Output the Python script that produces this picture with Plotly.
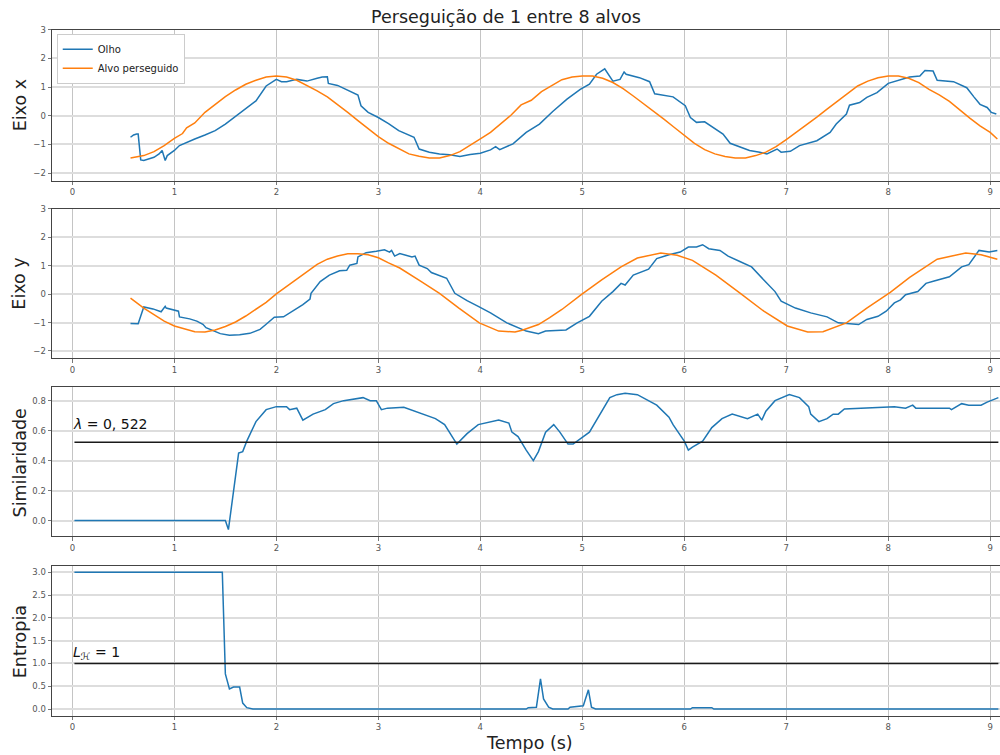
import plotly.graph_objects as go

# ---------------- data ----------------
t_alvo_x = [0.57, 0.7, 0.8, 0.9, 1.0, 1.08, 1.12, 1.2, 1.3, 1.4, 1.5, 1.6, 1.7, 1.8, 1.9, 2.0,
            2.1, 2.2, 2.3, 2.4, 2.5, 2.6, 2.7, 2.8, 2.9, 3.0, 3.1, 3.2, 3.3, 3.4, 3.5, 3.6,
            3.7, 3.8, 3.9, 4.0, 4.1, 4.2, 4.3, 4.4, 4.5, 4.6, 4.7, 4.8, 4.9, 5.0, 5.1, 5.2,
            5.3, 5.4, 5.5, 5.6, 5.7, 5.8, 5.9, 6.0, 6.1, 6.2, 6.3, 6.4, 6.5, 6.6, 6.7, 6.8,
            6.9, 7.0, 7.1, 7.2, 7.3, 7.4, 7.5, 7.6, 7.7, 7.8, 7.9, 8.0, 8.1, 8.2, 8.3, 8.4,
            8.5, 8.6, 8.7, 8.8, 8.9, 9.0, 9.07]
alvo_x = [-1.47, -1.39, -1.25, -1.04, -0.79, -0.62, -0.42, -0.25, 0.12, 0.40, 0.67, 0.90, 1.10, 1.24, 1.35, 1.39,
          1.35, 1.24, 1.06, 0.87, 0.66, 0.40, 0.12, -0.17, -0.46, -0.73, -0.96, -1.16, -1.33, -1.41, -1.47, -1.47,
          -1.39, -1.25, -1.04, -0.81, -0.58, -0.27, 0.02, 0.38, 0.54, 0.84, 1.06, 1.26, 1.35, 1.39, 1.39, 1.31,
          1.16, 0.95, 0.69, 0.43, 0.17, -0.12, -0.40, -0.69, -0.96, -1.18, -1.33, -1.42, -1.47, -1.47, -1.39, -1.27,
          -1.08, -0.83, -0.58, -0.33, -0.05, 0.23, 0.50, 0.77, 1.04, 1.21, 1.33, 1.39, 1.39, 1.31, 1.16, 0.92,
          0.73, 0.50, 0.20, -0.08, -0.35, -0.58, -0.81]

t_olho_x = [0.57, 0.60, 0.63, 0.645, 0.67, 0.70, 0.80, 0.85, 0.88, 0.91, 0.93, 1.00, 1.05, 1.10, 1.20, 1.30,
            1.40, 1.50, 1.60, 1.70, 1.80, 1.90, 2.00, 2.05, 2.10, 2.20, 2.30, 2.40, 2.45, 2.50, 2.51, 2.60,
            2.70, 2.80, 2.83, 2.90, 3.00, 3.10, 3.20, 3.30, 3.35, 3.40, 3.50, 3.60, 3.70, 3.80, 3.90, 4.00,
            4.10, 4.15, 4.19, 4.32, 4.45, 4.58, 4.71, 4.85, 4.98, 5.07, 5.14, 5.22, 5.30, 5.37, 5.41, 5.43,
            5.56, 5.66, 5.71, 5.89, 6.01, 6.06, 6.12, 6.20, 6.28, 6.38, 6.45, 6.55, 6.64, 6.74, 6.81, 6.91,
            6.95, 7.04, 7.13, 7.30, 7.43, 7.49, 7.59, 7.62, 7.72, 7.79, 7.89, 8.00, 8.12, 8.21, 8.31, 8.36,
            8.44, 8.48, 8.64, 8.77, 8.84, 8.90, 8.97, 9.01, 9.06]
olho_x = [-0.75, -0.67, -0.64, -0.64, -1.54, -1.56, -1.45, -1.33, -1.21, -1.56, -1.39, -1.21, -1.04, -0.96, -0.81, -0.67,
          -0.52, -0.29, -0.03, 0.23, 0.52, 1.04, 1.27, 1.19, 1.19, 1.27, 1.21, 1.31, 1.35, 1.36, 1.13, 1.06,
          0.89, 0.72, 0.35, 0.12, -0.06, -0.27, -0.52, -0.69, -0.75, -1.16, -1.27, -1.33, -1.36, -1.42, -1.35, -1.31,
          -1.19, -1.08, -1.18, -0.98, -0.58, -0.29, 0.15, 0.58, 0.92, 1.10, 1.45, 1.64, 1.21, 1.27, 1.53, 1.45,
          1.33, 1.19, 0.77, 0.66, 0.35, -0.06, -0.23, -0.21, -0.40, -0.64, -0.96, -1.10, -1.21, -1.27, -1.33, -1.16,
          -1.27, -1.24, -1.04, -0.87, -0.58, -0.29, 0.06, 0.37, 0.46, 0.64, 0.81, 1.13, 1.27, 1.35, 1.39, 1.58,
          1.56, 1.24, 1.19, 0.98, 0.66, 0.40, 0.29, 0.12, 0.06]

t_alvo_y = [0.57, 0.7, 0.8, 0.9, 1.0, 1.1, 1.2, 1.3, 1.4, 1.5, 1.6, 1.7, 1.8, 1.9, 2.0, 2.1,
            2.2, 2.3, 2.4, 2.5, 2.6, 2.7, 2.8, 2.9, 3.0, 3.1, 3.21, 3.41, 3.60, 3.79, 3.99, 4.18,
            4.34, 4.41, 4.57, 4.68, 4.80, 4.99, 5.19, 5.38, 5.54, 5.77, 5.93, 6.08, 6.31, 6.55, 6.78, 7.01,
            7.21, 7.36, 7.59, 7.79, 8.02, 8.21, 8.48, 8.76, 8.91, 9.07]
alvo_y = [-0.14, -0.49, -0.72, -0.95, -1.12, -1.21, -1.32, -1.33, -1.26, -1.14, -0.98, -0.77, -0.54, -0.29, 0.01, 0.27,
          0.55, 0.81, 1.05, 1.23, 1.34, 1.42, 1.42, 1.39, 1.28, 1.10, 0.92, 0.47, 0.03, -0.49, -1.01, -1.30,
          -1.33, -1.27, -1.07, -0.83, -0.54, -0.02, 0.50, 0.96, 1.27, 1.45, 1.37, 1.19, 0.67, 0.03, -0.60, -1.12,
          -1.33, -1.32, -1.01, -0.49, 0.06, 0.59, 1.23, 1.45, 1.39, 1.23]

t_olho_y = [0.57, 0.63, 0.645, 0.70, 0.79, 0.87, 0.91, 0.92, 1.00, 1.04, 1.05, 1.15, 1.22, 1.28, 1.31, 1.38,
            1.45, 1.54, 1.64, 1.74, 1.84, 1.90, 1.98, 2.07, 2.16, 2.26, 2.33, 2.34, 2.43, 2.52, 2.62, 2.69,
            2.72, 2.79, 2.80, 2.88, 2.98, 3.06, 3.11, 3.13, 3.16, 3.21, 3.33, 3.36, 3.40, 3.48, 3.52, 3.67,
            3.75, 3.87, 3.98, 4.10, 4.26, 4.37, 4.45, 4.57, 4.64, 4.84, 4.95, 5.07, 5.19, 5.30, 5.38, 5.42,
            5.50, 5.65, 5.73, 5.85, 5.96, 6.04, 6.12, 6.18, 6.24, 6.35, 6.43, 6.55, 6.66, 6.78, 6.89, 6.95,
            7.09, 7.24, 7.40, 7.51, 7.63, 7.71, 7.79, 7.90, 7.98, 8.06, 8.12, 8.17, 8.29, 8.37, 8.45, 8.60,
            8.72, 8.79, 8.89, 8.99, 9.07]
olho_y = [-1.03, -1.04, -1.04, -0.45, -0.52, -0.62, -0.43, -0.49, -0.57, -0.60, -0.80, -0.87, -0.95, -1.06, -1.18, -1.29,
          -1.39, -1.45, -1.43, -1.38, -1.24, -1.06, -0.81, -0.80, -0.60, -0.37, -0.17, 0.03, 0.44, 0.67, 0.82, 0.84,
          1.02, 1.08, 1.31, 1.46, 1.51, 1.56, 1.48, 1.54, 1.34, 1.43, 1.31, 1.34, 1.02, 0.90, 0.76, 0.56,
          0.03, -0.23, -0.43, -0.66, -1.01, -1.18, -1.30, -1.39, -1.30, -1.26, -1.01, -0.78, -0.25, 0.09, 0.38, 0.32,
          0.67, 0.88, 1.25, 1.39, 1.48, 1.66, 1.66, 1.74, 1.60, 1.54, 1.34, 1.14, 0.96, 0.50, 0.09, -0.25,
          -0.49, -0.66, -0.80, -1.01, -1.04, -1.07, -0.89, -0.78, -0.60, -0.31, -0.20, -0.02, 0.09, 0.38, 0.46, 0.61,
          0.96, 1.04, 1.54, 1.48, 1.54]

t_sim = [0.02, 1.50, 1.53, 1.58, 1.63, 1.67, 1.71, 1.80, 1.90, 2.00, 2.10, 2.13, 2.20, 2.26, 2.36, 2.48,
         2.56, 2.66, 2.75, 2.85, 2.92, 2.98, 3.03, 3.09, 3.25, 3.40, 3.56, 3.65, 3.77, 3.87, 3.98, 4.18,
         4.28, 4.31, 4.37, 4.45, 4.52, 4.57, 4.64, 4.72, 4.78, 4.86, 4.91, 5.07, 5.27, 5.34, 5.42, 5.54,
         5.73, 5.85, 5.89, 6.00, 6.04, 6.08, 6.18, 6.27, 6.37, 6.47, 6.53, 6.62, 6.72, 6.76, 6.80, 6.89,
         7.03, 7.13, 7.22, 7.24, 7.32, 7.40, 7.46, 7.51, 7.57, 7.86, 8.06, 8.17, 8.24, 8.27, 8.60, 8.62,
         8.72, 8.79, 8.91, 8.97, 9.08]
similaridade = [0.0, 0.0, -0.06, 0.19, 0.45, 0.46, 0.53, 0.66, 0.74, 0.76, 0.76, 0.74, 0.75, 0.67, 0.71, 0.74,
                0.78, 0.80, 0.81, 0.82, 0.80, 0.80, 0.74, 0.75, 0.756, 0.72, 0.68, 0.64, 0.51, 0.58, 0.64, 0.67,
                0.65, 0.59, 0.56, 0.47, 0.40, 0.46, 0.59, 0.64, 0.59, 0.51, 0.51, 0.59, 0.82, 0.84, 0.85, 0.84,
                0.77, 0.69, 0.64, 0.53, 0.47, 0.49, 0.53, 0.62, 0.68, 0.71, 0.70, 0.68, 0.71, 0.67, 0.73, 0.80,
                0.84, 0.82, 0.76, 0.71, 0.66, 0.68, 0.71, 0.71, 0.745, 0.756, 0.76, 0.75, 0.77, 0.75, 0.75, 0.74,
                0.78, 0.77, 0.77, 0.79, 0.82]

t_ent = [0.02, 1.47, 1.50, 1.54, 1.58, 1.64, 1.67, 1.71, 1.77, 4.45, 4.47, 4.55, 4.59, 4.62, 4.67, 4.71,
         4.86, 4.88, 5.01, 5.06, 5.09, 5.13, 6.06, 6.08, 6.27, 6.29, 9.08]
entropia = [3.0, 3.0, 0.77, 0.44, 0.48, 0.48, 0.13, 0.03, 0.0, 0.0, 0.03, 0.04, 0.66, 0.22, 0.04, 0.0,
            0.0, 0.04, 0.07, 0.42, 0.04, 0.0, 0.0, 0.03, 0.03, 0.0, 0.0]

lambda_lim = 0.522
lh_lim = 1.0
t_lim = [0.02, 9.08]

x_ticks = [0, 1, 2, 3, 4, 5, 6, 7, 8, 9]
y_ticks_xy = [-2, -1, 0, 1, 2, 3]
y_ticks_sim = [0.0, 0.2, 0.4, 0.6, 0.8]
y_ticks_ent = [0.0, 0.5, 1.0, 1.5, 2.0, 2.5, 3.0]

# ---------------- figure ----------------
W, H = 1000, 755
BLUE, ORANGE = "#1f77b4", "#ff7f0e"
FONT = "DejaVu Sans"

fig = go.Figure()
line_w = 1.5
fig.add_trace(go.Scatter(x=t_olho_x, y=olho_x, mode="lines", name="Olho",
                         line=dict(color=BLUE, width=line_w), xaxis="x", yaxis="y"))
fig.add_trace(go.Scatter(x=t_alvo_x, y=alvo_x, mode="lines", name="Alvo perseguido",
                         line=dict(color=ORANGE, width=line_w), xaxis="x", yaxis="y"))
fig.add_trace(go.Scatter(x=t_olho_y, y=olho_y, mode="lines", showlegend=False,
                         line=dict(color=BLUE, width=line_w), xaxis="x2", yaxis="y2"))
fig.add_trace(go.Scatter(x=t_alvo_y, y=alvo_y, mode="lines", showlegend=False,
                         line=dict(color=ORANGE, width=line_w), xaxis="x2", yaxis="y2"))
fig.add_trace(go.Scatter(x=t_sim, y=similaridade, mode="lines", showlegend=False,
                         line=dict(color=BLUE, width=line_w), xaxis="x3", yaxis="y3"))
fig.add_trace(go.Scatter(x=t_lim, y=[lambda_lim, lambda_lim], mode="lines", showlegend=False,
                         line=dict(color="#1a1a1a", width=1.5), xaxis="x3", yaxis="y3"))
fig.add_trace(go.Scatter(x=t_ent, y=entropia, mode="lines", showlegend=False,
                         line=dict(color=BLUE, width=line_w), xaxis="x4", yaxis="y4"))
fig.add_trace(go.Scatter(x=t_lim, y=[lh_lim, lh_lim], mode="lines", showlegend=False,
                         line=dict(color="#1a1a1a", width=1.5), xaxis="x4", yaxis="y4"))


def dom(top_px, bot_px):
    return [1 - bot_px / H, 1 - top_px / H]


panels = [  # (top px, bottom px, y range, ticks, tickformat)
    (24.7, 176.7, [-2.26, 3.01], y_ticks_xy, "d"),
    (205.0, 355.7, [-2.26, 3.01], y_ticks_xy, "d"),
    (384.7, 535.0, [-0.106, 0.89], y_ticks_sim, ".1f"),
    (564.7, 715.3, [-0.144, 3.137], y_ticks_ent, ".1f"),
]

tickfont = dict(family=FONT, size=8.5, color="#555555")
layout = dict(
    width=W, height=H,
    margin=dict(l=52, r=0, t=0, b=0),
    paper_bgcolor="white", plot_bgcolor="white",
    font=dict(family=FONT, color="#222222"),
    showlegend=True,
    legend=dict(x=0.005, y=1 - 29 / H, xanchor="left", yanchor="top",
                bgcolor="white", bordercolor="#cccccc", borderwidth=1,
                font=dict(family=FONT, size=10, color="#222222"),
                itemwidth=30, tracegroupgap=0),
)
for i, (top, bot, yr, yt, fmt) in enumerate(panels, start=1):
    sx = "" if i == 1 else str(i)
    layout["xaxis" + sx] = dict(
        domain=[0, 1], anchor="y" + sx, range=[-0.2, 9.096],
        tickmode="array", tickvals=x_ticks, tickfont=tickfont,
        showgrid=True, gridcolor="#c4c4c4", gridwidth=1,
        showline=True, linecolor="#444444", linewidth=1, mirror=True,
        ticks="outside", ticklen=3.5, tickcolor="#777777",
        zeroline=False,
    )
    layout["yaxis" + sx] = dict(
        domain=dom(top, bot), anchor="x" + sx, range=yr,
        tickmode="array", tickvals=yt, tickformat=fmt, tickfont=tickfont,
        showgrid=True, gridcolor="#dddddd", gridwidth=1.6,
        showline=True, linecolor="#444444", linewidth=1, mirror=False,
        ticks="outside", ticklen=3.5, tickcolor="#777777",
        zeroline=False,
    )
fig.update_layout(**layout)

PW = W - 52


def px_x(px):
    return (px - 52) / PW


def px_y(py):
    return 1 - py / H


ann = []
ann.append(dict(text="Perseguição de 1 entre 8 alvos", x=px_x(506), y=px_y(12.5),
                xref="paper", yref="paper", xanchor="center", yanchor="middle",
                showarrow=False, font=dict(family=FONT, size=17.5, color="#222222")))
for label, cy in [("Eixo x", 101.5), ("Eixo y", 281), ("Similaridade", 461), ("Entropia", 641)]:
    ann.append(dict(text=label, x=px_x(19.5), y=px_y(cy), xref="paper", yref="paper",
                    xanchor="center", yanchor="middle", textangle=-90, showarrow=False,
                    font=dict(family=FONT, size=17.5, color="#222222")))
ann.append(dict(text="Tempo (s)", x=px_x(529), y=px_y(742.5), xref="paper", yref="paper",
                xanchor="center", yanchor="middle", showarrow=False,
                font=dict(family=FONT, size=17.5, color="#222222")))
ann.append(dict(text="<i>λ</i> = 0, 522", x=0.0, y=0.585, xref="x3", yref="y3",
                xanchor="left", yanchor="bottom", showarrow=False, borderpad=0,
                font=dict(family=FONT, size=14, color="#111111")))
ann.append(dict(text="<i>L</i><sub><i>ℋ</i></sub> = 1", x=0.0, y=1.0, xref="x4", yref="y4",
                xanchor="left", yanchor="bottom", showarrow=False, borderpad=0,
                font=dict(family=FONT, size=14, color="#111111")))
fig.update_layout(annotations=ann)

fig.write_html("out.html",
               config={"displayModeBar": False},
               post_script="document.body.style.margin='0';document.body.style.padding='0';"
                           "document.documentElement.style.overflow='hidden';")
